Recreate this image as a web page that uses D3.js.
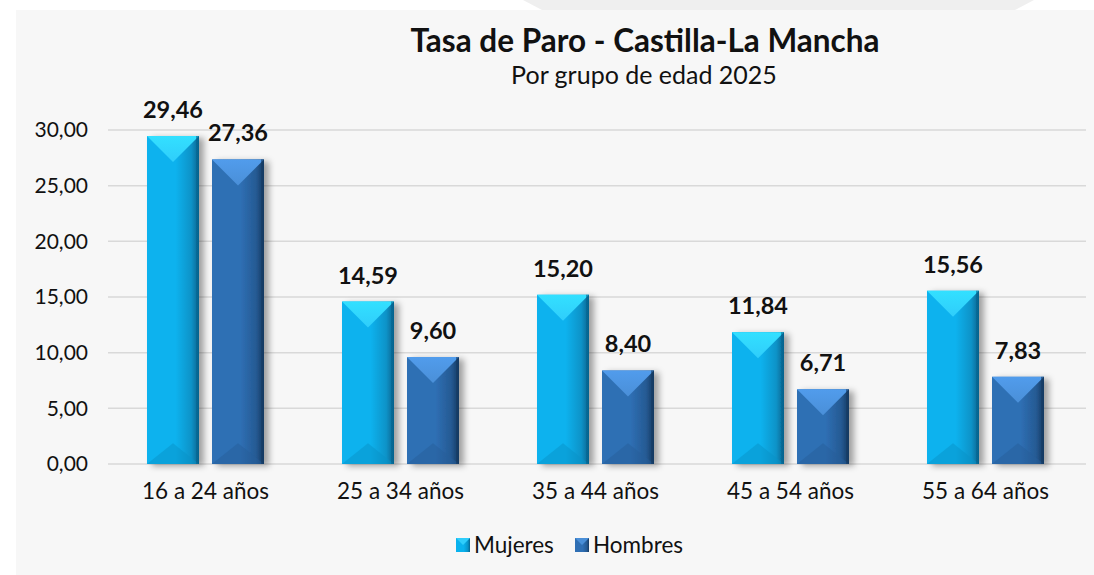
<!DOCTYPE html>
<html>
<head>
<meta charset="utf-8">
<script src="https://d3js.org/d3.v7.min.js"></script>
<style>
  body { margin: 0; background: #ffffff; }
  text { font-family: Lato, "Open Sans", sans-serif; fill: #111; }
</style>
</head>
<body>
<script>
// datos del gráfico
var grupos = ["16 a 24 años", "25 a 34 años", "35 a 44 años", "45 a 54 años", "55 a 64 años"];
var series = ["Mujeres", "Hombres"];
var mujeres = [29.46, 14.59, 15.20, 11.84, 15.56];
var hombres = [27.36, 9.60, 8.40, 6.71, 7.83];
var ticksY = [0, 5, 10, 15, 20, 25, 30];

var width = 1094, height = 575;
var colores = {
  Mujeres: { base: "#0ab2ee", light: "#2fcdfb", dark: "#06648f", bottom: "#0892c8" },
  Hombres: { base: "#2f6fb4", light: "#4a8fd8", dark: "#163a62", bottom: "#265d9a" }
};

var es = d3.formatLocale({ decimal: ",", thousands: ".", grouping: [3], currency: ["", " €"] });
var fmt = es.format(".2f");

var svg = d3.select("body").append("svg")
  .attr("width", width)
  .attr("height", height);

var defs = svg.append("defs");
var f = defs.append("filter").attr("id", "sombra")
  .attr("x", "-20%").attr("y", "-10%").attr("width", "160%").attr("height", "130%");
f.append("feDropShadow").attr("dx", 5).attr("dy", 2).attr("stdDeviation", 3)
  .attr("flood-color", "#000").attr("flood-opacity", 0.35);

series.forEach(function(s) {
  var g = defs.append("linearGradient").attr("id", "grad-" + s)
    .attr("x1", 0).attr("x2", 1).attr("y1", 0).attr("y2", 0);
  g.append("stop").attr("offset", "0%").attr("stop-color", colores[s].base);
  g.append("stop").attr("offset", "55%").attr("stop-color", colores[s].base);
  g.append("stop").attr("offset", "85%").attr("stop-color", d3.interpolateRgb(colores[s].base, colores[s].dark)(0.4));
  g.append("stop").attr("offset", "100%").attr("stop-color", colores[s].dark);
  var t = defs.append("linearGradient").attr("id", "top-" + s)
    .attr("x1", 0).attr("x2", 0).attr("y1", 0).attr("y2", 1);
  t.append("stop").attr("offset", "0%").attr("stop-color", d3.color(colores[s].light).brighter(0.25));
  t.append("stop").attr("offset", "100%").attr("stop-color", colores[s].light);
});

// fondo
svg.append("rect").attr("x", 16).attr("y", 10).attr("width", width - 16).attr("height", height - 10)
  .attr("fill", "#f7f7f7");
svg.append("polygon").attr("points", "523,0 1034,0 1015,10 542,10").attr("fill", "#efefef");

var x0 = d3.scaleBand().domain(grupos).range([108, 1083]).paddingInner(0.4).paddingOuter(0.2);
var x1 = d3.scaleBand().domain(series).range([0, x0.bandwidth()]).paddingInner(0.2);
var y = d3.scaleLinear().domain([0, 30]).range([464, 130]);

// rejilla
svg.append("g").selectAll("line").data(ticksY).enter().append("line")
  .attr("x1", 108).attr("x2", 1086)
  .attr("y1", function(d) { return y(d); }).attr("y2", function(d) { return y(d); })
  .attr("stroke", "#d9d9d9").attr("stroke-width", 1.5);

// eje y
var axisY = d3.axisLeft(y).tickValues(ticksY).tickFormat(fmt).tickSize(0).tickPadding(0);
var gy = svg.append("g").attr("transform", "translate(88,0)").call(axisY);
gy.select(".domain").remove();
gy.selectAll("text").attr("font-size", 21).attr("font-family", "Lato, sans-serif").attr("fill", "#111");

// eje x
var axisX = d3.axisBottom(x0).tickSize(0).tickPadding(0);
var gx = svg.append("g").attr("transform", "translate(0,483)").call(axisX);
gx.select(".domain").remove();
gx.selectAll("text").attr("font-size", 22.5).attr("font-family", "Lato, sans-serif").attr("fill", "#111");

// barras
var datos = [];
grupos.forEach(function(gr, i) {
  datos.push({ grupo: gr, serie: "Mujeres", valor: mujeres[i] });
  datos.push({ grupo: gr, serie: "Hombres", valor: hombres[i] });
});

var barras = svg.append("g").selectAll("g.barra").data(datos).enter().append("g")
  .attr("class", "barra")
  .attr("transform", function(d) { return "translate(" + (x0(d.grupo) + x1(d.serie)) + ",0)"; });

var w = x1.bandwidth();
barras.each(function(d) {
  var g = d3.select(this);
  var top = y(d.valor), bot = y(0), h = bot - top;
  var bev = Math.min(w / 2, h / 2, 26);
  g.append("rect").attr("x", 0).attr("y", top).attr("width", w).attr("height", h)
    .attr("fill", "url(#grad-" + d.serie + ")").attr("filter", "url(#sombra)");
  // faceta superior
  g.append("polygon")
    .attr("points", [[0, top], [w, top], [w / 2, top + bev]].map(function(p) { return p.join(","); }).join(" "))
    .attr("fill", "url(#top-" + d.serie + ")");
  // faceta inferior
  g.append("polygon")
    .attr("points", [[0, bot], [w, bot], [w / 2, bot - bev * 0.8]].map(function(p) { return p.join(","); }).join(" "))
    .attr("fill", colores[d.serie].bottom).attr("opacity", 0.5);
  // borde derecho oscuro
  g.append("rect").attr("x", w - 3).attr("y", top).attr("width", 3).attr("height", h)
    .attr("fill", colores[d.serie].dark).attr("opacity", 0.6);
  g.append("text")
    .attr("x", w / 2).attr("y", top - 18)
    .attr("text-anchor", "middle")
    .attr("font-size", 23.5).attr("font-weight", "bold")
    .text(fmt(d.valor));
});

// títulos
svg.append("text").attr("x", 645).attr("y", 52).attr("text-anchor", "middle")
  .attr("font-size", 31.5).attr("font-weight", "bold").text("Tasa de Paro - Castilla-La Mancha");
svg.append("text").attr("x", 644).attr("y", 84).attr("text-anchor", "middle")
  .attr("font-size", 25).text("Por grupo de edad 2025");

// leyenda
var leyenda = [{ s: "Mujeres", x: 456 }, { s: "Hombres", x: 575 }];
var lg = svg.append("g").selectAll("g").data(leyenda).enter().append("g")
  .attr("transform", function(d) { return "translate(" + d.x + ",538)"; });
lg.append("rect").attr("width", 14).attr("height", 14).attr("fill", function(d) { return "url(#grad-" + d.s + ")"; });
lg.append("polygon").attr("points", "0,0 14,0 7,7").attr("fill", function(d) { return colores[d.s].light; });
lg.append("text").attr("x", 18).attr("y", 15).attr("font-size", 22.5).text(function(d) { return d.s; });
</script>
</body>
</html>
